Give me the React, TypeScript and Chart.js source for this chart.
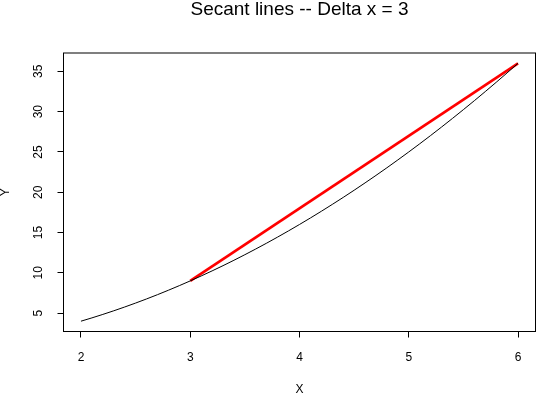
import React, { useEffect, useRef } from "react";
import { Chart, registerables } from "chart.js";

Chart.register(...registerables);

const curveX = [2, 2.1, 2.2, 2.3, 2.4, 2.5, 2.6, 2.7, 2.8, 2.9, 3, 3.1, 3.2, 3.3, 3.4, 3.5, 3.6, 3.7, 3.8, 3.9, 4, 4.1, 4.2, 4.3, 4.4, 4.5, 4.6, 4.7, 4.8, 4.9, 5, 5.1, 5.2, 5.3, 5.4, 5.5, 5.6, 5.7, 5.8, 5.9, 6];
const curveY = [4, 4.41, 4.84, 5.29, 5.76, 6.25, 6.76, 7.29, 7.84, 8.41, 9, 9.61, 10.24, 10.89, 11.56, 12.25, 12.96, 13.69, 14.44, 15.21, 16, 16.81, 17.64, 18.49, 19.36, 20.25, 21.16, 22.09, 23.04, 24.01, 25, 26.01, 27.04, 28.09, 29.16, 30.25, 31.36, 32.49, 33.64, 34.81, 36];
const secantX = [3, 6];
const secantY = [9, 36];
const xTicks = [2, 3, 4, 5, 6];
const yTicks = [5, 10, 15, 20, 25, 30, 35];
const titleText = "Secant lines -- Delta x = 3";
const xLabel = "X";
const yLabel = "Y";

const FONT = "'Liberation Sans', Arial, Helvetica, sans-serif";

export default function App() {
  const ref = useRef<HTMLCanvasElement | null>(null);
  useEffect(() => {
    if (!ref.current) return;
    const boxPlugin = {
      id: "rbox",
      afterDraw(chart: any) {
        const { ctx, chartArea } = chart;
        ctx.save();
        ctx.strokeStyle = "#000";
        ctx.lineWidth = 1;
        ctx.strokeRect(chartArea.left, chartArea.top, chartArea.right - chartArea.left, chartArea.bottom - chartArea.top);
        ctx.fillStyle = "#000";
        ctx.font = `19px ${FONT}`;
        ctx.textAlign = "center";
        ctx.textBaseline = "middle";
        ctx.fillText(titleText, (chartArea.left + chartArea.right) / 2, 10);
        ctx.restore();
      },
    };
    const chart = new Chart(ref.current, {
      type: "scatter",
      data: {
        datasets: [
          {
            data: curveX.map((x, i) => ({ x, y: curveY[i] })),
            showLine: true,
            borderColor: "#000",
            borderWidth: 1,
            pointRadius: 0,
            fill: false,
            tension: 0,
          },
          {
            data: secantX.map((x, i) => ({ x, y: secantY[i] })),
            showLine: true,
            borderColor: "#ff0000",
            borderWidth: 2.7,
            pointRadius: 0,
            fill: false,
          },
        ],
      },
      options: {
        responsive: false,
        animation: false,
        layout: { padding: { top: 53, right: 0.5, bottom: 0, left: 0 } },
        plugins: { legend: { display: false }, tooltip: { enabled: false } },
        scales: {
          x: {
            type: "linear",
            min: 1.84,
            max: 6.16,
            afterBuildTicks: (s: any) => {
              s.ticks = xTicks.map((v) => ({ value: v }));
            },
            afterFit: (s: any) => {
              s.height = 63.5;
            },
            grid: { drawOnChartArea: false, drawTicks: true, tickLength: 6, color: "#000", tickColor: "#000" },
            border: { display: false },
            ticks: { color: "#000", font: { family: FONT, size: 12 }, padding: 13, maxRotation: 0, autoSkip: false },
            title: { display: true, text: xLabel, color: "#000", font: { family: FONT, size: 12, lineHeight: 1.2 }, padding: { top: 0, bottom: -2 } },
          },
          y: {
            type: "linear",
            min: 2.72,
            max: 37.28,
            afterBuildTicks: (s: any) => {
              s.ticks = yTicks.map((v) => ({ value: v }));
            },
            afterFit: (s: any) => {
              s.width = 63.5;
            },
            grid: { drawOnChartArea: false, drawTicks: true, tickLength: 6, color: "#000", tickColor: "#000" },
            border: { display: false },
            ticks: { color: "#000", font: { family: FONT, size: 12 }, padding: 12.5, minRotation: 90, maxRotation: 90, crossAlign: "center", autoSkip: false },
            title: { display: true, text: yLabel, color: "#000", font: { family: FONT, size: 12, lineHeight: 1.2 }, padding: { top: -2, bottom: 0 } },
          },
        },
      },
      plugins: [boxPlugin],
    } as any);
    return () => chart.destroy();
  }, []);
  return (
    <div style={{ position: "fixed", left: 0, top: 0, width: 536, height: 395, background: "#fff" }}>
      <canvas ref={ref} width={536} height={395} style={{ display: "block" }} />
    </div>
  );
}
